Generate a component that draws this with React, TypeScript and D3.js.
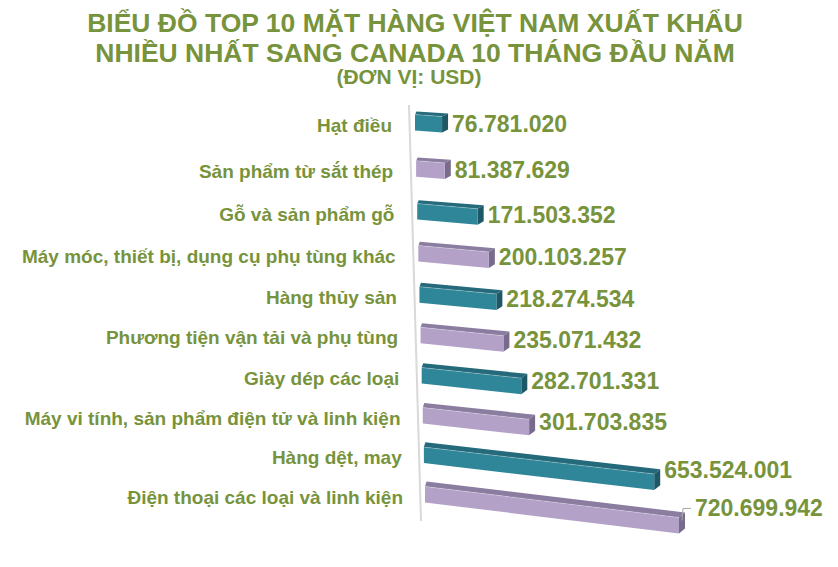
import * as d3 from "d3";
import React from "react";

const categories = [
  "Hạt điều",
  "Sản phẩm từ sắt thép",
  "Gỗ và sản phẩm gỗ",
  "Máy móc, thiết bị, dụng cụ phụ tùng khác",
  "Hàng thủy sản",
  "Phương tiện vận tải và phụ tùng",
  "Giày dép các loại",
  "Máy vi tính, sản phẩm điện tử và linh kiện",
  "Hàng dệt, may",
  "Điện thoại các loại và linh kiện",
];
const values = [
  76781020, 81387629, 171503352, 200103257, 218274534, 235071432, 282701331,
  301703835, 653524001, 720699942,
];
const titleLines = [
  "BIỂU ĐỒ TOP 10 MẶT HÀNG VIỆT NAM XUẤT KHẨU",
  "NHIỀU NHẤT SANG CANADA 10 THÁNG ĐẦU NĂM",
];
const unitLabel = "(ĐƠN VỊ: USD)";

const W = 838;
const H = 567;
const GREEN = "#77933C";
const FONT = "'Liberation Sans', Arial, sans-serif";
const palettes = [
  { front: "#2F8699", top: "#256A7B", side: "#1E5766" },
  { front: "#B3A1C8", top: "#8B7DA0", side: "#786B8C" },
];

const fmt = (v: number) => d3.format(",")(v).replace(/,/g, ".");

export default function App() {
  const idx = d3.range(categories.length);
  // rows get slightly closer together further down (perspective)
  const rowY = d3.scalePow().exponent(0.95).domain([0, 9]).range([125, 497]);
  const leftX = d3.scaleLinear().domain([0, 9]).range([415, 425]);
  const labelRight = d3.scaleLinear().domain([0, 9]).range([392, 403]);
  const xLen = d3.scaleLinear().domain([0, d3.max(values) as number]).range([0, 254]);
  const slope = d3.scaleLinear().domain([0, 9]).range([0.075, 0.122]);
  const depth = d3.scaleLinear().domain([0, 9]).range([3, 5]);

  const barH = 16;
  const sideW = 6;

  return (
    <div style={{ position: "absolute", left: 0, top: 0 }}>
      <svg width={W} height={H} style={{ display: "block", background: "#fff" }}>
        <g fontFamily={FONT} fontWeight="bold" fill={GREEN} textAnchor="middle">
          {titleLines.map((t, i) => (
            <text key={t} x={415} y={32 + i * 30} fontSize={26.5}>
              {t}
            </text>
          ))}
          <text x={409} y={84} fontSize={21}>
            {unitLabel}
          </text>
        </g>

        <line
          x1={leftX(0) - 6}
          y1={rowY(0) - 20}
          x2={leftX(9) - 4}
          y2={rowY(9) + 24}
          stroke="#D9D9D9"
          strokeWidth={2}
        />

        {idx.map((i) => {
          const pal = palettes[i % 2];
          const x0 = leftX(i);
          const w = xLen(values[i]);
          const x1 = x0 + w;
          const y0 = rowY(i) - 10.5;
          const drop = slope(i) * w;
          const d = depth(i);
          const dxL = 1.5;
          const dxR = sideW;
          const p1: [number, number] = [x0, y0];
          const p2: [number, number] = [x1, y0 + drop];
          const p3: [number, number] = [x1, y0 + drop + barH];
          const p4: [number, number] = [x0, y0 + barH];
          const poly = (pts: [number, number][]) => pts.map((p) => p.join(",")).join(" ");
          const top = poly([p1, p2, [p2[0] + dxR, p2[1] - d], [p1[0] + dxL, p1[1] - d]]);
          const side = poly([p2, [p2[0] + dxR, p2[1] - d], [p3[0] + dxR, p3[1] - d], p3]);
          const front = poly([p1, p2, p3, p4]);
          const last = i === categories.length - 1;
          const ly = y0 + barH / 2 + drop * (last ? 0.45 : 0.55);
          const lx = x1 + dxR + (last ? 10 : 4);
          return (
            <g key={categories[i]}>
              <text
                x={labelRight(i)}
                y={rowY(i)}
                dy="0.35em"
                textAnchor="end"
                fontFamily={FONT}
                fontWeight="bold"
                fontSize={19}
                fill={GREEN}
              >
                {categories[i]}
              </text>
              <polygon points={top} fill={pal.top} />
              <polygon points={side} fill={pal.side} />
              <polygon points={front} fill={pal.front} />
              <line x1={x0} y1={y0} x2={x1} y2={y0 + drop} stroke="#ffffff" strokeOpacity={0.25} />
              {last && (
                <polyline
                  points={poly([
                    [x1 + 3, y0 + drop + 3],
                    [x1 + 4, ly],
                    [lx - 4, ly],
                  ])}
                  fill="none"
                  stroke="#A6A6A6"
                  strokeWidth={1}
                />
              )}
              <text
                x={lx}
                y={ly}
                dy="0.35em"
                fontFamily={FONT}
                fontWeight="bold"
                fontSize={23}
                fill={GREEN}
              >
                {fmt(values[i])}
              </text>
            </g>
          );
        })}
      </svg>
    </div>
  );
}
